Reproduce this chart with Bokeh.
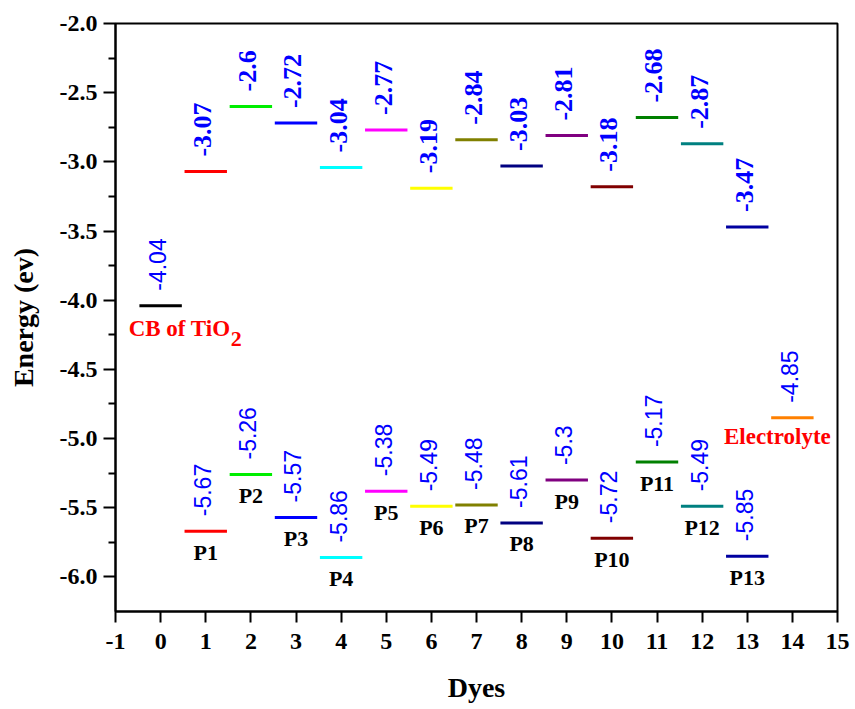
from bokeh.plotting import figure
from bokeh.models import FixedTicker, ColumnDataSource, Range1d
from bokeh.core.properties import value
from bokeh.embed import file_html
from bokeh.resources import INLINE

# ---- data ----
dye_names = ["P1", "P2", "P3", "P4", "P5", "P6", "P7", "P8", "P9", "P10", "P11", "P12", "P13"]
dye_x = [1, 2, 3, 4, 5, 6, 7, 8, 9, 10, 11, 12, 13]
lumo = [-3.07, -2.6, -2.72, -3.04, -2.77, -3.19, -2.84, -3.03, -2.81, -3.18, -2.68, -2.87, -3.47]
homo = [-5.67, -5.26, -5.57, -5.86, -5.38, -5.49, -5.48, -5.61, -5.3, -5.72, -5.17, -5.49, -5.85]
dye_colors = ["#ff0000", "#00ee00", "#0000ff", "#00ffff", "#ff00ff", "#ffff00", "#808000",
              "#000080", "#800080", "#800000", "#008000", "#008080", "#0000a0"]
cb_x = [0]
cb_energy = [-4.04]
cb_label = "CB of TiO"
cb_sub = "2"
elec_x = [14]
elec_energy = [-4.85]
elec_label = "Electrolyte"
x_ticks = list(range(-1, 16))
x_tick_labels = [str(t) for t in x_ticks]
y_ticks = [-6.0, -5.5, -5.0, -4.5, -4.0, -3.5, -3.0, -2.5, -2.0]
y_tick_labels = ["-6.0", "-5.5", "-5.0", "-4.5", "-4.0", "-3.5", "-3.0", "-2.5", "-2.0"]
x_title = "Dyes"
y_title = "Energy (ev)"

SERIF = value("Liberation Serif")
SANS = value("Liberation Sans")
HW = 0.47  # half width of level bars

p = figure(width=855, height=709, output_backend="svg", toolbar_location=None,
           x_range=Range1d(-1, 15), y_range=Range1d(-6.25, -2.0),
           min_border_left=115, min_border_right=18, min_border_top=23, min_border_bottom=98)
p.background_fill_color = "white"
p.border_fill_color = "white"
p.grid.grid_line_color = None
p.outline_line_color = "black"
p.outline_line_width = 2

# axes
p.xaxis.ticker = FixedTicker(ticks=x_ticks, minor_ticks=[])
p.xaxis.major_label_overrides = {t: l for t, l in zip(x_ticks, x_tick_labels)}
minor_y = [(a + b) / 2 for a, b in zip(y_ticks[:-1], y_ticks[1:])]
p.yaxis.ticker = FixedTicker(ticks=y_ticks, minor_ticks=minor_y)
p.yaxis.major_label_overrides = {t: l for t, l in zip(y_ticks, y_tick_labels)}
for ax in (p.xaxis[0], p.yaxis[0]):
    ax.axis_line_width = 2
    ax.axis_line_color = "black"
    ax.major_tick_line_width = 2
    ax.minor_tick_line_width = 2
    ax.major_tick_in = 0
    ax.minor_tick_in = 0
    ax.major_label_text_font = "Liberation Serif"
    ax.major_label_text_font_style = "bold"
    ax.major_label_text_font_size = "24px"
    ax.major_label_text_color = "black"
    ax.axis_label_text_font = "Liberation Serif"
    ax.axis_label_text_font_style = "bold"
    ax.axis_label_text_font_size = "28px"
    ax.axis_label_text_color = "black"
p.xaxis.major_tick_out = 11
p.xaxis.minor_tick_line_color = None
p.xaxis.major_label_standoff = 11
p.xaxis.axis_label = x_title
p.xaxis.axis_label_standoff = 20
p.yaxis.major_tick_out = 12
p.yaxis.minor_tick_out = 7
p.yaxis.major_label_standoff = 6
p.yaxis.axis_label = y_title
p.yaxis.axis_label_standoff = 18

# dye levels
src = ColumnDataSource(dict(
    x=dye_x, name=dye_names, lumo=lumo, homo=homo, color=dye_colors,
    x0=[x - HW for x in dye_x], x1=[x + HW for x in dye_x],
    lumo_t=[str(v) for v in lumo], homo_t=[str(v) for v in homo],
))
p.segment(x0="x0", x1="x1", y0="lumo", y1="lumo", color="color", line_width=3, source=src)
p.segment(x0="x0", x1="x1", y0="homo", y1="homo", color="color", line_width=3, source=src)

# CB and electrolyte levels
ref_src = ColumnDataSource(dict(
    x=cb_x + elec_x, e=cb_energy + elec_energy, color=["black", "#ff8000"],
    x0=[x - HW for x in cb_x + elec_x], x1=[x + HW for x in cb_x + elec_x],
    t=[str(v) for v in cb_energy + elec_energy],
))
p.segment(x0="x0", x1="x1", y0="e", y1="e", color="color", line_width=3, source=ref_src)

# value labels (rotated)
p.text(x="x", y="lumo", text="lumo_t", source=src, angle=1.5708, text_align="left",
       text_baseline="middle", x_offset=-3, y_offset=-15, text_color="#0000ff",
       text_font=SERIF, text_font_style="bold", text_font_size="26px")
p.text(x="x", y="homo", text="homo_t", source=src, angle=1.5708, text_align="left",
       text_baseline="middle", x_offset=-3, y_offset=-15, text_color="#0000ff",
       text_font=SANS, text_font_size="23px")
p.text(x="x", y="e", text="t", source=ref_src, angle=1.5708, text_align="left",
       text_baseline="middle", x_offset=-3, y_offset=-15, text_color="#0000ff",
       text_font=SANS, text_font_size="23px")

# dye names
p.text(x="x", y="homo", text="name", source=src, text_align="center",
       text_baseline="alphabetic", y_offset=21, text_color="black",
       text_font=SERIF, text_font_style="bold", text_font_size="22px")

# CB of TiO2 and Electrolyte
p.text(x=cb_x, y=cb_energy, text=[cb_label], text_align="left", text_baseline="alphabetic",
       x_offset=-32, y_offset=23, text_color="#ff0000", text_font=SERIF,
       text_font_style="bold", text_font_size="23px")
p.text(x=cb_x, y=cb_energy, text=[cb_sub], text_align="left", text_baseline="alphabetic",
       x_offset=70, y_offset=33, text_color="#ff0000", text_font=SERIF,
       text_font_style="bold", text_font_size="22px")
p.text(x=elec_x, y=elec_energy, text=[elec_label], text_align="center", text_baseline="alphabetic",
       x_offset=-15, y_offset=19, text_color="#ff0000", text_font=SERIF,
       text_font_style="bold", text_font_size="23px")

open("out.html", "w").write(file_html(p, INLINE))
